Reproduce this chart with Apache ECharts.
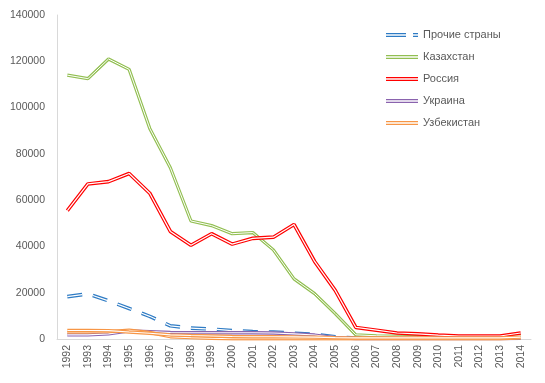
<!DOCTYPE html>
<html><head><meta charset="utf-8">
<script src="https://cdn.jsdelivr.net/npm/echarts@6/dist/echarts.min.js"></script>
<style>html,body{margin:0;padding:0;background:#fff}#c{width:545px;height:383px}</style>
</head><body><div id="c"></div>
<script>
const years = ['1992','1993','1994','1995','1996','1997','1998','1999','2000','2001','2002','2003','2004','2005','2006','2007','2008','2009','2010','2011','2012','2013','2014'];
const yTicks = [0, 20000, 40000, 60000, 80000, 100000, 120000, 140000];
const others = [18300,19500,16500,13200,9800,5700,4700,4300,3600,3200,3000,2500,2000,1000,400,300,300,300,300,300,300,300,300];
const kazakhstan = [114000,112500,121000,116500,91000,74000,51000,49000,45500,46000,38500,26000,19600,11000,1800,1400,1200,1000,800,800,800,800,1500];
const russia = [55500,67000,68000,71500,63000,46500,40500,45500,41000,43500,44000,49500,33500,21000,5000,3800,2600,2200,1700,1300,1300,1300,2600];
const ukraine = [1800,1800,2200,3500,3200,2800,2700,2700,2700,2700,2600,2200,1700,600,200,200,200,200,200,200,200,200,300];
const uzbekistan = [3700,3700,3600,3000,2500,1800,1500,1300,1100,1000,1000,900,800,600,500,500,500,500,500,500,500,500,800];
const uzbekistan2 = [3000,3000,3200,3800,2800,1000,600,300,100,100,100,100,100,100,100,100,100,100,100,100,100,100,500];

const FONT = 'Liberation Sans';
const dbl = 'path://M0,0H32V1.3H0Z M0,2.7H32V4H0Z';
const dblDash = 'path://M0,0H20V1.3H0Z M0,2.7H20V4H0Z M27,0H32V1.3H27Z M27,2.7H32V4H27Z';

function pair(name, data, color, dashed, ow, iw) {
  const t = dashed ? [15, 11] : 'solid';
  return [
    {name: name, type: 'line', data: data, symbol: 'none', smooth: false,
     lineStyle: {color: color, width: ow, type: t, cap: 'butt'}, itemStyle: {color: color}, animation: false},
    {name: name, type: 'line', data: data, symbol: 'none', smooth: false,
     lineStyle: {color: '#ffffff', width: iw, type: t, cap: 'butt'}, itemStyle: {color: color}, animation: false}
  ];
}

const series = [].concat(
  pair('Прочие страны', others, '#2E7BC4', true, 3.6, 1.2),
  pair('Казахстан', kazakhstan, '#92BF52', false, 3.2, 1.0),
  pair('Россия', russia, '#FF0000', false, 3.6, 1.2),
  pair('Украина', ukraine, '#8A63AE', false, 3.4, 1.1),
  pair('Узбекистан ', uzbekistan2, '#F79646', false, 3.4, 1.1),
  pair('Узбекистан', uzbekistan, '#F79646', false, 3.4, 1.1)
);

const chart = echarts.init(document.getElementById('c'), null, {renderer: 'canvas'});
chart.setOption({
  animation: false,
  backgroundColor: '#fff',
  grid: {left: 57, right: 14, top: 15, bottom: 44, containLabel: false},
  legend: {
    orient: 'vertical', left: 386, top: 28, padding: 0,
    itemWidth: 32, itemHeight: 4, itemGap: 8,
    data: [
      {name: 'Прочие страны', icon: dblDash},
      {name: 'Казахстан', icon: dbl},
      {name: 'Россия', icon: dbl},
      {name: 'Украина', icon: dbl},
      {name: 'Узбекистан', icon: dbl}
    ],
    textStyle: {fontFamily: FONT, fontSize: 11, color: '#595959', lineHeight: 14, padding: [0,0,0,0]},
    selectedMode: false
  },
  xAxis: {
    type: 'category', data: years, boundaryGap: true,
    axisLine: {lineStyle: {color: '#D9D9D9', width: 1}},
    axisTick: {show: false},
    axisLabel: {rotate: 90, interval: 0, margin: 6, fontFamily: FONT, fontSize: 10.5, color: '#595959'}
  },
  yAxis: {
    type: 'value', min: yTicks[0], max: yTicks[yTicks.length-1], interval: yTicks[1]-yTicks[0],
    axisLine: {show: true, lineStyle: {color: '#D9D9D9', width: 1}},
    axisTick: {show: false},
    splitLine: {show: false},
    axisLabel: {margin: 12, fontFamily: FONT, fontSize: 10.5, color: '#595959', formatter: function (v) { return String(v); }}
  },
  series: series
});
</script></body></html>
